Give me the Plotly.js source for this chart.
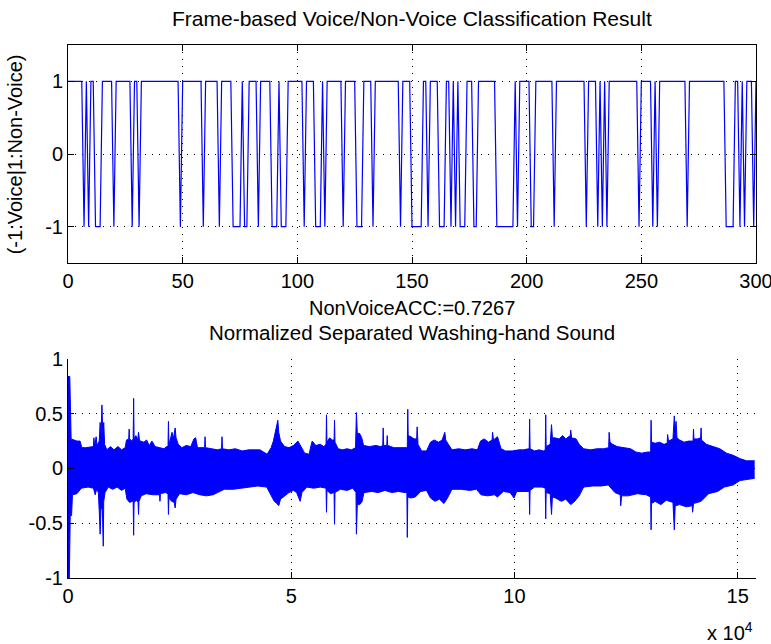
<!DOCTYPE html>
<html><head><meta charset="utf-8">
<script src="https://cdn.plot.ly/plotly-3.0.1.min.js"></script>
<style>html,body{margin:0;padding:0;background:#fff}#chart{width:771px;height:644px}</style>
</head><body><div id="chart"></div>
<script>
// Frame-based classification result (-1: voice, 1: non-voice), frames 0..300
const voiceFlags = [
 1,1,1,1,1,1,1,-1,1,-1,
 1,1,-1,-1,-1,1,1,1,1,1,
 -1,1,1,1,1,1,1,1,-1,1,
 1,-1,1,1,1,1,1,1,1,1,
 1,1,1,1,1,1,1,1,1,-1,
 1,1,1,1,1,1,1,1,1,-1,
 1,1,1,1,1,1,-1,1,1,1,
 1,1,-1,-1,-1,-1,1,-1,-1,1,
 1,1,1,-1,1,1,1,1,1,-1,
 -1,-1,1,-1,-1,-1,1,1,1,1,
 1,1,1,-1,1,1,1,1,-1,-1,
 -1,1,-1,1,1,1,1,1,1,1,
 -1,1,1,1,1,1,-1,-1,-1,1,
 1,1,1,-1,1,1,1,1,1,1,
 1,1,1,1,1,-1,1,1,1,1,
 -1,-1,-1,-1,-1,1,1,-1,1,1,
 1,1,-1,-1,-1,1,1,-1,1,-1,
 1,-1,-1,-1,1,1,1,-1,-1,1,
 1,1,1,1,1,1,1,-1,-1,-1,
 -1,-1,-1,-1,-1,1,-1,1,1,1,
 1,1,-1,-1,1,1,1,1,1,1,
 1,1,-1,1,1,1,1,1,1,1,
 1,1,1,1,1,1,-1,1,1,1,
 1,-1,1,-1,1,-1,1,1,1,1,
 1,1,1,1,1,1,1,1,1,-1,
 1,1,1,1,1,-1,1,-1,1,1,
 1,1,1,1,1,1,1,1,1,1,
 -1,1,1,1,1,1,1,1,1,1,
 1,1,1,1,1,1,1,-1,-1,-1,
 -1,1,1,-1,1,-1,1,1,1,-1,
 1
];
const frameIndex = voiceFlags.map((v, i) => i);

// Washing-hand sound, positions in units of 10^4 samples: upper and lower peak envelopes
const upperX = [0.00,0.04,0.07,0.12,0.20,0.27,0.31,0.40,0.50,0.57,0.58,0.60,0.63,0.65,0.70,0.72,0.74,0.76,0.78,0.80,0.82,
 0.87,0.95,1.03,1.12,1.20,1.28,1.31,1.36,1.37,1.38,1.43,1.46,1.47,1.48,1.52,1.56,1.58,1.60,1.62,
 1.70,1.76,1.82,1.88,1.95,2.05,2.15,2.21,2.24,2.25,2.26,2.30,2.33,2.36,2.40,2.42,2.47,2.55,2.65,2.75,
 2.82,2.86,2.90,3.06,3.07,3.08,3.20,3.35,3.44,3.45,3.46,3.60,3.75,3.90,4.05,4.16,4.30,4.46,
 4.55,4.60,4.64,4.70,4.72,4.76,4.85,4.95,5.05,5.15,5.30,5.40,5.45,5.47,5.55,5.65,5.73,5.78,5.79,5.80,
 5.86,5.92,5.96,5.97,5.98,6.05,6.15,6.25,6.35,6.44,6.46,6.48,6.53,6.58,6.62,6.75,6.90,7.00,7.05,7.06,7.07,
 7.14,7.15,7.16,7.30,7.45,7.58,7.60,7.61,7.62,7.68,7.75,7.81,7.82,7.84,7.92,8.03,8.12,8.20,8.30,8.38,8.44,8.46,8.52,
 8.60,8.75,8.90,9.05,9.17,9.24,9.32,9.42,9.50,9.51,9.53,9.62,9.70,9.80,9.95,10.10,10.20,10.32,10.33,10.34,10.35,
 10.45,10.55,10.65,10.69,10.70,10.71,10.80,10.83,10.85,10.90,11.00,11.08,11.15,11.25,11.26,11.28,11.38,11.45,
 11.55,11.70,11.85,12.00,12.11,12.12,12.14,12.20,12.30,12.45,12.60,12.72,12.85,12.98,13.05,13.06,13.07,
 13.15,13.25,13.35,13.42,13.43,13.45,13.55,13.58,13.60,13.62,13.64,13.70,13.80,13.90,14.00,14.01,14.02,
 14.10,14.17,14.18,14.19,14.30,14.45,14.60,14.75,14.90,15.05,15.20,15.38];
const upperY = [0.84,0.84,0.27,0.26,0.25,0.25,0.19,0.19,0.20,0.20,0.28,0.20,0.29,0.21,0.25,0.42,0.30,0.58,0.30,0.42,0.22,
 0.17,0.20,0.17,0.20,0.17,0.19,0.26,0.27,0.36,0.27,0.25,0.27,0.64,0.27,0.30,0.26,0.33,0.26,0.25,
 0.24,0.26,0.21,0.25,0.20,0.19,0.18,0.20,0.20,0.43,0.22,0.28,0.33,0.27,0.37,0.28,0.22,0.19,0.21,0.20,
 0.27,0.28,0.19,0.19,0.29,0.19,0.18,0.17,0.18,0.29,0.18,0.17,0.18,0.16,0.17,0.17,0.17,0.13,
 0.19,0.25,0.34,0.44,0.33,0.25,0.20,0.19,0.21,0.25,0.14,0.13,0.22,0.25,0.21,0.22,0.20,0.22,0.49,0.24,
 0.28,0.26,0.26,0.44,0.24,0.18,0.17,0.18,0.17,0.19,0.51,0.32,0.32,0.28,0.21,0.20,0.21,0.20,0.21,0.37,0.21,
 0.21,0.30,0.21,0.19,0.19,0.19,0.20,0.54,0.30,0.29,0.27,0.27,0.38,0.22,0.16,0.16,0.24,0.26,0.24,0.26,0.33,0.26,0.22,
 0.17,0.18,0.17,0.18,0.17,0.25,0.27,0.24,0.26,0.33,0.26,0.29,0.18,0.16,0.16,0.17,0.17,0.18,0.18,0.45,0.18,
 0.16,0.17,0.16,0.17,0.49,0.20,0.22,0.40,0.28,0.28,0.27,0.30,0.27,0.30,0.35,0.28,0.27,0.22,
 0.18,0.17,0.18,0.18,0.19,0.33,0.24,0.22,0.20,0.19,0.18,0.15,0.14,0.15,0.15,0.44,0.24,
 0.23,0.24,0.22,0.23,0.31,0.25,0.27,0.48,0.35,0.43,0.28,0.26,0.24,0.25,0.25,0.36,0.27,
 0.27,0.28,0.37,0.26,0.22,0.20,0.18,0.14,0.12,0.09,0.07,0.07];
const lowerX = [0.00,0.03,0.05,0.08,0.10,0.20,0.30,0.45,0.57,0.61,0.64,0.68,0.70,0.72,0.74,0.77,0.79,0.80,0.83,
 0.90,1.00,1.10,1.20,1.28,1.32,1.38,1.44,1.46,1.47,1.48,1.53,1.57,1.58,1.59,1.64,1.75,1.90,2.05,2.06,2.07,2.18,
 2.24,2.25,2.26,2.32,2.38,2.40,2.42,2.50,2.65,2.80,2.95,3.10,3.25,3.35,3.50,3.70,3.90,4.05,4.25,4.45,
 4.55,4.62,4.68,4.72,4.76,4.85,4.95,5.05,5.12,5.20,5.24,5.35,5.50,5.65,5.78,5.79,5.80,5.88,5.96,5.97,5.98,
 6.10,6.25,6.38,6.45,6.46,6.48,6.53,6.58,6.63,6.80,6.95,7.10,7.25,7.40,7.55,7.59,7.60,7.61,7.68,7.78,7.90,8.03,
 8.12,8.22,8.32,8.42,8.50,8.60,8.80,9.00,9.15,9.25,9.40,9.55,9.62,9.75,9.90,9.99,10.05,10.20,10.33,10.34,10.35,
 10.45,10.62,10.69,10.70,10.71,10.80,10.83,10.85,10.92,11.05,11.15,11.26,11.35,11.45,11.55,11.75,11.95,12.10,
 12.25,12.37,12.38,12.40,12.55,12.75,12.95,13.05,13.06,13.07,13.15,13.28,13.40,13.55,13.58,13.60,
 13.70,13.85,13.98,13.99,14.01,14.10,14.18,14.35,14.55,14.70,14.90,15.05,15.20,15.38];
const lowerY = [-1.00,-1.00,-0.43,-0.43,-0.24,-0.23,-0.18,-0.17,-0.18,-0.24,-0.19,-0.22,-0.39,-0.60,-0.35,-0.38,-0.71,-0.30,-0.22,
 -0.17,-0.19,-0.17,-0.20,-0.18,-0.28,-0.31,-0.30,-0.30,-0.61,-0.31,-0.29,-0.31,-0.42,-0.30,-0.25,-0.23,-0.24,-0.24,-0.30,-0.23,-0.22,
 -0.23,-0.42,-0.27,-0.30,-0.31,-0.36,-0.28,-0.23,-0.24,-0.22,-0.24,-0.25,-0.24,-0.22,-0.19,-0.19,-0.18,-0.17,-0.16,-0.17,
 -0.24,-0.30,-0.32,-0.34,-0.28,-0.25,-0.22,-0.20,-0.22,-0.30,-0.22,-0.17,-0.18,-0.17,-0.18,-0.40,-0.20,-0.23,-0.22,-0.51,-0.22,
 -0.19,-0.20,-0.18,-0.22,-0.60,-0.33,-0.33,-0.31,-0.22,-0.21,-0.22,-0.20,-0.22,-0.21,-0.22,-0.22,-0.63,-0.26,-0.27,-0.26,-0.21,-0.20,
 -0.27,-0.30,-0.28,-0.32,-0.27,-0.19,-0.19,-0.20,-0.19,-0.24,-0.25,-0.24,-0.26,-0.21,-0.22,-0.27,-0.21,-0.21,-0.21,-0.42,-0.20,
 -0.17,-0.17,-0.18,-0.46,-0.22,-0.23,-0.42,-0.26,-0.27,-0.30,-0.28,-0.33,-0.30,-0.25,-0.17,-0.16,-0.16,-0.15,
 -0.22,-0.24,-0.34,-0.25,-0.25,-0.23,-0.24,-0.26,-0.56,-0.32,-0.30,-0.33,-0.29,-0.31,-0.56,-0.34,
 -0.33,-0.35,-0.34,-0.40,-0.32,-0.31,-0.30,-0.23,-0.21,-0.17,-0.15,-0.11,-0.10,-0.09];

const frameTicks = [0,50,100,150,200,250,300];
const classTicks = [-1,0,1];
const sampleTicks = [0,5,10,15];
const ampTicks = [-1,-0.5,0,0.5,1];

const titleTop = "Frame-based Voice/Non-Voice Classification Result";
const ylabelTop = "(-1:Voice|1:Non-Voice)";
const xlabelTop = "NonVoiceACC:=0.7267";
const titleBottom = "Normalized Separated Washing-hand Sound";
const xExponent = "x 10<sup>4</sup>";

const FONT = "Liberation Sans, Arial, Helvetica, sans-serif";
const BLUE = "#0000ff";

const axisCommon = {
  showline: true, linecolor: "#000", linewidth: 1,
  ticks: "inside", ticklen: 6, tickcolor: "#000", tickwidth: 1,
  showgrid: true, gridcolor: "#000", gridwidth: 1, griddash: "1px,6px",
  zeroline: false, tickfont: {family: FONT, size: 20, color: "#000"},
  tickmode: "array", fixedrange: true, ticklabeloverflow: "allow"
};

const data = [
  {x: frameIndex, y: voiceFlags, type: "scatter", mode: "lines",
   line: {color: BLUE, width: 1.2}, xaxis: "x", yaxis: "y", hoverinfo: "skip"},
  {x: upperX, y: upperY, type: "scatter", mode: "lines",
   line: {color: BLUE, width: 1}, xaxis: "x2", yaxis: "y2", hoverinfo: "skip"},
  {x: lowerX, y: lowerY, type: "scatter", mode: "lines", fill: "tonexty",
   fillcolor: BLUE, line: {color: BLUE, width: 1}, xaxis: "x2", yaxis: "y2", hoverinfo: "skip"}
];

const layout = {
  width: 771, height: 644,
  margin: {l: 68, r: 15, t: 45, b: 66},
  paper_bgcolor: "#fff", plot_bgcolor: "#fff",
  showlegend: false,
  font: {family: FONT, size: 20, color: "#000"},
  xaxis: Object.assign({}, axisCommon, {domain: [0, 1], anchor: "y", range: [0, 300],
    tickvals: frameTicks, ticktext: frameTicks.map(String), mirror: "ticks"}),
  yaxis: Object.assign({}, axisCommon, {domain: [0.591, 1], anchor: "x", range: [-1.5, 1.5],
    tickvals: classTicks, ticktext: classTicks.map(String), mirror: "ticks"}),
  xaxis2: Object.assign({}, axisCommon, {domain: [0, 1], anchor: "y2", range: [0, 15.41],
    tickvals: sampleTicks, ticktext: sampleTicks.map(String), mirror: false}),
  yaxis2: Object.assign({}, axisCommon, {domain: [0, 0.411], anchor: "x2", range: [-1, 1],
    tickvals: ampTicks, ticktext: ampTicks.map(String), mirror: false}),
  annotations: [
    {text: titleTop, xref: "paper", yref: "paper", x: 0.5, y: 1.049, xanchor: "center", yanchor: "middle", showarrow: false, font: {family: FONT, size: 21}},
    {text: ylabelTop, xref: "paper", yref: "paper", x: -0.077, y: 0.795, xanchor: "center", yanchor: "middle", textangle: -90, showarrow: false, font: {family: FONT, size: 20}},
    {text: xlabelTop, xref: "paper", yref: "paper", x: 0.5, y: 0.507, xanchor: "center", yanchor: "middle", showarrow: false, font: {family: FONT, size: 20}},
    {text: titleBottom, xref: "paper", yref: "paper", x: 0.5, y: 0.461, xanchor: "center", yanchor: "middle", showarrow: false, font: {family: FONT, size: 20.5}},
    {text: xExponent, xref: "paper", yref: "paper", x: 0.962, y: -0.1, xanchor: "center", yanchor: "middle", showarrow: false, font: {family: FONT, size: 20}}
  ]
};

Plotly.newPlot("chart", data, layout, {staticPlot: true, displayModeBar: false});
</script>
</body></html>
